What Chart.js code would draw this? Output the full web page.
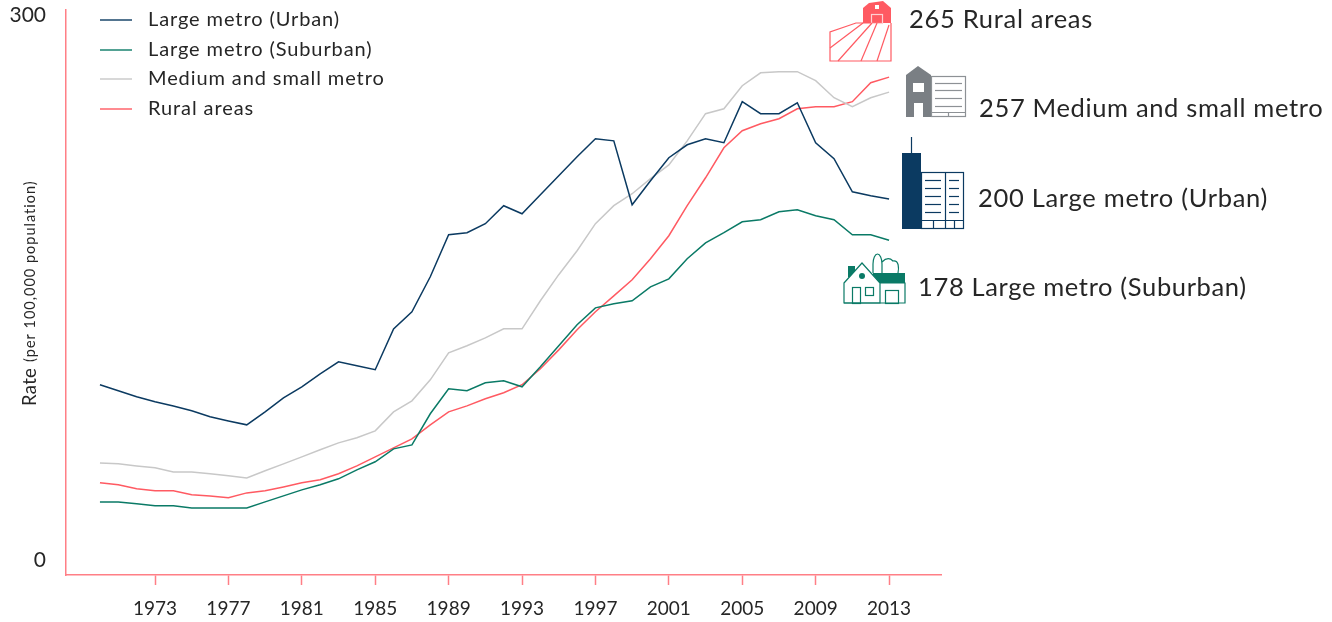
<!DOCTYPE html>
<html>
<head>
<meta charset="utf-8">
<title>Rate per 100,000 population</title>
<script src="https://cdn.jsdelivr.net/npm/chart.js@4"></script>
<style>
  html, body { margin: 0; padding: 0; background: #fff; }
  canvas { display: block; }
</style>
</head>
<body>
<canvas id="rateChart" width="1332" height="622"></canvas>
<script>
// --- Data ---
const years = [1970,1971,1972,1973,1974,1975,1976,1977,1978,1979,1980,1981,1982,1983,1984,1985,1986,1987,1988,1989,1990,1991,1992,1993,1994,1995,1996,1997,1998,1999,2000,2001,2002,2003,2004,2005,2006,2007,2008,2009,2010,2011,2012,2013];
const urban = [100.9,97.7,94.5,91.8,89.6,87,83.8,81.6,79.5,86.4,93.9,99.8,106.7,113.1,111,108.9,130.7,139.8,158.5,180.9,182,186.8,196.4,192.1,202.2,212.4,222.5,232.1,231,196.9,209.7,222,228.9,232.1,230,251.9,245.5,245.5,251.3,230,221.5,203.8,201.7,200];
const suburban = [38.4,38.4,37.4,36.3,36.3,35.2,35.2,35.2,35.2,38.4,41.6,44.8,47.5,50.7,55.5,59.8,66.7,68.8,85.4,98.7,97.7,101.9,103,99.8,110.5,121.7,132.9,141.9,144.1,145.7,153.1,157.4,168.1,176.6,182,187.8,188.9,193.2,194.2,191,188.9,180.9,180.9,178];
const medium = [59.2,58.7,57.6,56.6,54.4,54.4,53.4,52.3,51.2,55,58.7,62.4,66.2,69.9,72.6,76.3,86.4,92.3,103.5,117.9,121.7,125.9,130.7,130.7,145.7,159.6,172.4,186.8,196.4,202.8,210.8,218.2,231,245.5,248.1,260.4,267.3,267.9,267.9,263.1,254,249.2,254,257];
const rural = [48.6,47.5,45.4,44.3,44.3,42.2,41.6,40.6,43.2,44.3,46.4,48.6,50.2,53.4,57.6,62.4,67.2,72,79.5,86.4,89.6,93.4,96.6,100.9,109.4,119.5,130.2,139.8,148.3,156.9,168.1,180.4,196.4,211.3,227.3,236.4,240.1,242.8,248.1,249.2,249.2,251.9,262,265];
const xTicks = [1973,1977,1981,1985,1989,1993,1997,2001,2005,2009,2013];
const yTicks = [0,300];
const seriesNames = ['Large metro (Urban)','Large metro (Suburban)','Medium and small metro','Rural areas'];
const endLabels = ['200 Large metro (Urban)','178 Large metro (Suburban)','257 Medium and small metro','265 Rural areas'];

const NAVY = '#0b3a61';
const GREEN = '#0a7a66';
const GRAY = '#c8c8c8';
const RED = '#ff5a62';
const AXIS = '#ff7f86';
const INK = '#262626';
const FONT = 'Lato, sans-serif';

function toPoints(values) {
  return values.map((v, i) => ({ x: years[i], y: v }));
}

function text(c, str, x, y, size, align, spacing) {
  c.font = `${size}px ${FONT}`;
  c.letterSpacing = spacing || '0px';
  c.textAlign = align || 'left';
  c.textBaseline = 'middle';
  c.fillStyle = INK;
  c.fillText(str, x, y);
  c.letterSpacing = '0px';
}

function poly(c, pts, close) {
  c.beginPath();
  pts.forEach((p, i) => i ? c.lineTo(p[0], p[1]) : c.moveTo(p[0], p[1]));
  if (close) c.closePath();
}

// --- Little pictograms next to the end labels ---
function drawBarn(c) {
  c.fillStyle = RED;
  poly(c, [[863,23],[863,8],[869,3],[883,1],[891,8],[891,23]], true);
  c.fill();
  c.fillStyle = '#fff';
  c.fillRect(875, 5, 4, 4);
  c.strokeStyle = '#ffd0d2';
  c.lineWidth = 1.2;
  c.strokeRect(871.5, 14.5, 11, 9);
  c.strokeStyle = RED;
  poly(c, [[871,23],[856,23],[830,32],[830,61],[891,61],[891,23]]);
  c.stroke();
  [[830,48,863,23],[838,61,872,23],[861,61,877,23],[877,61,889,25]].forEach(l => {
    poly(c, [[l[0],l[1]],[l[2],l[3]]]);
    c.stroke();
  });
}

function drawMidrise(c) {
  const dark = '#7a7f84';
  c.fillStyle = dark;
  poly(c, [[906,75],[918,66],[931,75],[931,117],[906,117]], true);
  c.fill();
  c.fillStyle = '#fff';
  c.fillRect(913, 83, 11, 9);
  c.fillRect(914, 103, 9, 14);
  c.strokeStyle = '#8d9195';
  c.lineWidth = 1.2;
  c.strokeRect(931.5, 76.5, 34, 40);
  [83,90,98,106].forEach(y => {
    poly(c, [[935,y+0.5],[962,y+0.5]]);
    c.stroke();
  });
  poly(c, [[931,112.5],[966,112.5]]);
  c.stroke();
  poly(c, [[948.5,112],[948.5,117]]);
  c.stroke();
}

function drawTower(c) {
  c.fillStyle = NAVY;
  c.fillRect(902, 153, 19, 76);
  c.strokeStyle = NAVY;
  c.lineWidth = 1.2;
  poly(c, [[911.5,137],[911.5,153]]);
  c.stroke();
  c.strokeRect(921.5, 172.5, 42, 56);
  poly(c, [[945.5,173],[945.5,228]]);
  c.stroke();
  [180,188,196,204,212].forEach(y => {
    poly(c, [[925,y+0.5],[941,y+0.5]]);
    c.stroke();
    poly(c, [[949,y+0.5],[959,y+0.5]]);
    c.stroke();
  });
  poly(c, [[921,220.5],[964,220.5]]);
  c.stroke();
  [933.5,954.5].forEach(x => {
    poly(c, [[x,220],[x,228]]);
    c.stroke();
  });
}

function drawHouse(c) {
  c.fillStyle = GREEN;
  c.fillRect(848, 266, 7, 11);
  c.fillRect(873, 273, 32, 10);
  c.strokeStyle = GREEN;
  c.lineWidth = 1.2;
  c.beginPath();
  c.ellipse(877.5, 264, 4.5, 10, 0, Math.PI, 0);
  c.moveTo(882, 264);
  c.lineTo(882, 273);
  c.moveTo(873, 264);
  c.lineTo(873, 273);
  c.moveTo(882, 262);
  c.bezierCurveTo(888, 256, 892, 260, 893, 261);
  c.bezierCurveTo(899, 260, 899, 268, 898, 273);
  c.stroke();
  c.fillStyle = '#fff';
  poly(c, [[844,283],[862,263],[880,283],[880,303],[844,303]], true);
  c.fill();
  c.stroke();
  poly(c, [[880,283],[905,283],[905,303],[844,303]]);
  c.stroke();
  c.fillStyle = GREEN;
  c.beginPath();
  c.arc(862, 276, 3, 0, Math.PI * 2);
  c.fill();
  c.strokeRect(852.5, 287.5, 8, 16);
  c.strokeRect(865.5, 287.5, 8, 8);
  c.strokeRect(885.5, 290.5, 13, 13);
}

// --- Axis text, legend, pictograms ---
const annotations = {
  id: 'annotations',
  afterDraw(chart) {
    const c = chart.ctx;
    const yScale = chart.scales.y;
    c.save();

    // the 300 and 0 sit slightly inside their tick positions
    text(c, String(yTicks[1]), 46, yScale.getPixelForValue(yTicks[1]) + 4, 21, 'right');
    text(c, String(yTicks[0]), 46, yScale.getPixelForValue(yTicks[0]) - 14, 21, 'right');

    c.save();
    c.translate(30, 406);
    c.rotate(-Math.PI / 2);
    text(c, 'Rate', 0, 0, 18.5, 'left', '0.3px');
    text(c, '(per 100,000 population)', 44, 0, 14.5, 'left', '1px');
    c.restore();

    // legend
    const legendY = [20, 50, 79, 109];
    chart.data.datasets.forEach((ds, i) => {
      c.strokeStyle = ds.borderColor;
      c.lineWidth = 1.4;
      poly(c, [[100, legendY[i]], [132, legendY[i]]]);
      c.stroke();
      text(c, seriesNames[i], 148, legendY[i], 20, 'left', '0.9px');
    });

    drawBarn(c);
    drawMidrise(c);
    drawTower(c);
    drawHouse(c);

    text(c, endLabels[3], 909, 20, 25.5, 'left', '0.7px');
    text(c, endLabels[2], 979, 109, 25.5, 'left', '0.65px');
    text(c, endLabels[0], 978, 199, 25.5, 'left', '0.7px');
    text(c, endLabels[1], 918, 288, 25.5, 'left', '0.65px');
    c.restore();
  }
};

const ctx = document.getElementById('rateChart');

new Chart(ctx, {
  type: 'line',
  data: {
    datasets: [
      { label: seriesNames[0], data: toPoints(urban), borderColor: NAVY },
      { label: seriesNames[1], data: toPoints(suburban), borderColor: GREEN },
      { label: seriesNames[2], data: toPoints(medium), borderColor: GRAY },
      { label: seriesNames[3], data: toPoints(rural), borderColor: RED }
    ]
  },
  options: {
    responsive: false,
    animation: false,
    layout: { padding: { top: 10, right: 391, left: 0, bottom: 0 } },
    elements: {
      point: { radius: 0 },
      line: { borderWidth: 1.5, tension: 0 }
    },
    plugins: { legend: { display: false }, tooltip: { enabled: false } },
    scales: {
      x: {
        type: 'linear',
        min: 1968.15,
        max: 2015.83,
        afterBuildTicks: scale => { scale.ticks = xTicks.map(v => ({ value: v })); },
        afterFit: scale => { scale.height = 47; },
        grid: { drawOnChartArea: false, drawTicks: true, tickLength: 10, tickColor: AXIS, tickWidth: 1.5 },
        border: { color: AXIS, width: 1.5 },
        ticks: {
          autoSkip: false,
          maxRotation: 0,
          padding: 12,
          color: INK,
          font: { family: FONT, size: 19 },
          callback: v => String(v)
        }
      },
      y: {
        min: -0.6,
        max: 300.8,
        afterFit: scale => { scale.width = 66; },
        grid: { display: false },
        border: { color: AXIS, width: 1.5 },
        ticks: { display: false }
      }
    }
  },
  plugins: [annotations]
});
</script>
</body>
</html>
